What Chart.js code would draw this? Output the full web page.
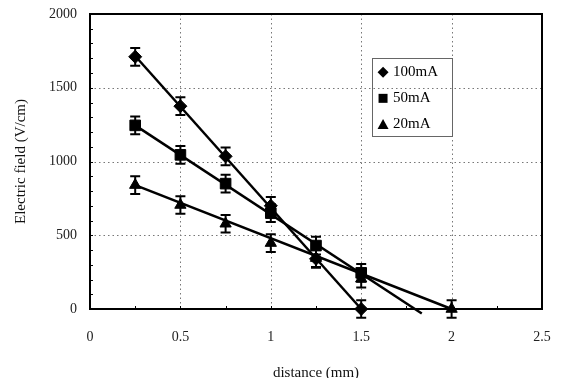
<!DOCTYPE html>
<html><head><meta charset="utf-8">
<script src="https://cdn.jsdelivr.net/npm/chart.js@4.4.1/dist/chart.umd.min.js"></script>
<style>html,body{margin:0;padding:0;background:#fff;}canvas{display:block}</style>
</head><body>
<canvas id="c" width="561" height="378"></canvas>
<script>
// ---- data ----
const xTicks = [0, 0.5, 1, 1.5, 2, 2.5];
const xTickLabels = ['0', '0.5', '1', '1.5', '2', '2.5'];
const yTicks = [0, 500, 1000, 1500, 2000];
const yTickLabels = ['0', '500', '1000', '1500', '2000'];
const seriesNames = ['100mA', '50mA', '20mA'];

const x100 = [0.25, 0.5, 0.75, 1.0, 1.25, 1.5];
const y100 = [1710, 1375, 1035, 700, 340, 0];
const e100 = [60, 60, 60, 60, 60, 60];

const x50 = [0.25, 0.5, 0.75, 1.0, 1.25, 1.5];
const y50 = [1245, 1045, 850, 650, 430, 245];
const e50 = [60, 60, 60, 60, 60, 60];

const x20 = [0.25, 0.5, 0.75, 1.0, 1.25, 1.5, 2.0];
const y20 = [840, 705, 578, 447, 345, 205, 0];
const e20 = [60, 60, 60, 60, 60, 60, 60];

// trend lines (end points)
const t100x = [0.25, 1.5];
const t100y = [1715, 0];
const t50x = [0.25, 1.835];
const t50y = [1245, -30];
const t20x = [0.25, 2.0];
const t20y = [840, 0];

const FONT = "'Liberation Serif', 'Times New Roman', serif";
const pts = (xs, ys) => xs.map((x, i) => ({x: x, y: ys[i]}));

const errorBars = {
  id: 'errorBars',
  afterDatasetsDraw(chart) {
    const ctx = chart.ctx, xs = chart.scales.x, ys = chart.scales.y;
    ctx.save();
    ctx.strokeStyle = '#000';
    ctx.lineWidth = 2;
    chart.data.datasets.forEach(ds => {
      if (!ds.errs) return;
      ds.data.forEach((p, j) => {
        const px = xs.getPixelForValue(p.x);
        const top = ys.getPixelForValue(p.y + ds.errs[j]);
        const bot = ys.getPixelForValue(p.y - ds.errs[j]);
        ctx.beginPath();
        ctx.moveTo(px, top); ctx.lineTo(px, bot);
        ctx.moveTo(px - 5, top); ctx.lineTo(px + 5, top);
        ctx.moveTo(px - 5, bot); ctx.lineTo(px + 5, bot);
        ctx.stroke();
      });
    });
    ctx.restore();
  }
};

const frame = {
  id: 'frame',
  beforeDatasetsDraw(chart) {
    const ctx = chart.ctx, a = chart.chartArea, xs = chart.scales.x, ys = chart.scales.y;
    ctx.save();
    ctx.strokeStyle = '#777';
    ctx.lineWidth = 1;
    ctx.setLineDash([1.5, 3]);
    xTicks.forEach(v => {
      if (v <= xs.min || v >= xs.max) return;
      const px = Math.round(xs.getPixelForValue(v)) + 0.5;
      ctx.beginPath(); ctx.moveTo(px, a.top); ctx.lineTo(px, a.bottom); ctx.stroke();
    });
    yTicks.forEach(v => {
      if (v <= ys.min || v >= ys.max) return;
      const py = Math.round(ys.getPixelForValue(v)) + 0.5;
      ctx.beginPath(); ctx.moveTo(a.left, py); ctx.lineTo(a.right, py); ctx.stroke();
    });
    ctx.restore();
  },
  afterDraw(chart) {
    const ctx = chart.ctx, a = chart.chartArea, xs = chart.scales.x, ys = chart.scales.y;
    ctx.save();
    ctx.strokeStyle = '#000';
    ctx.lineWidth = 2;
    ctx.strokeRect(a.left, a.top, a.right - a.left, a.bottom - a.top);
    // minor ticks, inward
    ctx.lineWidth = 1;
    ctx.beginPath();
    for (let v = ys.min; v <= ys.max; v += 100) {
      const py = Math.round(ys.getPixelForValue(v)) + 0.5;
      ctx.moveTo(a.left, py); ctx.lineTo(a.left + 3, py);
    }
    for (let v = xs.min; v <= xs.max + 1e-9; v += 0.25) {
      const px = Math.round(xs.getPixelForValue(v)) + 0.5;
      ctx.moveTo(px, a.bottom); ctx.lineTo(px, a.bottom - 3);
    }
    ctx.stroke();

    // legend
    const lx = xs.getPixelForValue(1.56), rx = xs.getPixelForValue(2.0);
    const ty = ys.getPixelForValue(1700), by = ys.getPixelForValue(1170);
    ctx.strokeStyle = '#666';
    ctx.lineWidth = 1;
    ctx.strokeRect(Math.round(lx) + 0.5, Math.round(ty) + 0.5, Math.round(rx - lx), Math.round(by - ty));
    const rowH = (by - ty) / 3;
    ctx.fillStyle = '#000';
    ctx.font = '15px ' + FONT;
    ctx.textBaseline = 'middle';
    ctx.textAlign = 'left';
    seriesNames.forEach((name, i) => {
      const cy = ty + rowH * (i + 0.5) + 1;
      const cx = lx + 11;
      ctx.beginPath();
      if (i === 0) {
        ctx.moveTo(cx, cy - 5.5); ctx.lineTo(cx + 5.5, cy); ctx.lineTo(cx, cy + 5.5); ctx.lineTo(cx - 5.5, cy);
      } else if (i === 1) {
        ctx.rect(cx - 4.5, cy - 4.5, 9, 9);
      } else {
        ctx.moveTo(cx, cy - 5.5); ctx.lineTo(cx + 5.5, cy + 4.5); ctx.lineTo(cx - 5.5, cy + 4.5);
      }
      ctx.closePath();
      ctx.fill();
      ctx.fillText(name, lx + 21, cy);
    });
    ctx.restore();
  }
};

const markerStyle = (style, r) => ({
  type: 'scatter', showLine: false, pointStyle: style, pointRadius: r, pointHoverRadius: r,
  pointBackgroundColor: '#000', pointBorderColor: '#000', pointBorderWidth: 1, clip: false
});
const trendStyle = {
  type: 'line', borderColor: '#000', borderWidth: 2.5, pointRadius: 0, fill: false, clip: false
};

new Chart(document.getElementById('c'), {
  data: {
    datasets: [
      Object.assign({label: 'trend ' + seriesNames[0], data: pts(t100x, t100y)}, trendStyle),
      Object.assign({label: 'trend ' + seriesNames[1], data: pts(t50x, t50y)}, trendStyle),
      Object.assign({label: 'trend ' + seriesNames[2], data: pts(t20x, t20y)}, trendStyle),
      Object.assign({label: seriesNames[0], data: pts(x100, y100), errs: e100}, markerStyle('rectRot', 6.5)),
      Object.assign({label: seriesNames[1], data: pts(x50, y50), errs: e50}, markerStyle('rect', 7.5)),
      Object.assign({label: seriesNames[2], data: pts(x20, y20), errs: e20}, markerStyle('triangle', 6.5))
    ]
  },
  options: {
    responsive: false,
    animation: false,
    events: [],
    layout: {padding: {left: 12, right: 19, top: 14, bottom: 0}},
    plugins: {legend: {display: false}, tooltip: {enabled: false}},
    scales: {
      x: {
        type: 'linear', min: 0, max: 2.5,
        afterBuildTicks: s => { s.ticks = xTicks.map(v => ({value: v})); },
        afterFit: s => { s.height = 378 - 309; s.paddingLeft = 0; s.paddingRight = 0; },
        grid: {display: false, drawTicks: false},
        border: {display: false},
        ticks: {
          padding: 20, color: '#222', font: {family: FONT, size: 14}, maxRotation: 0,
          callback: (v, i) => xTickLabels[i]
        },
        title: {display: true, text: 'distance (mm)', color: '#111', font: {family: FONT, size: 15}, padding: {top: 0, bottom: -4}}
      },
      y: {
        type: 'linear', min: 0, max: 2000,
        afterBuildTicks: s => { s.ticks = yTicks.map(v => ({value: v})); },
        afterFit: s => { s.width = 90 - 12; s.paddingTop = 0; s.paddingBottom = 0; },
        grid: {display: false, drawTicks: false},
        border: {display: false},
        ticks: {padding: 13, color: '#222', font: {family: FONT, size: 14},
          callback: (v, i) => yTickLabels[i]},
        title: {display: true, text: 'Electric field (V/cm)', color: '#111', font: {family: FONT, size: 15}, padding: {top: 0, bottom: 0}}
      }
    }
  },
  plugins: [frame, errorBars]
});
</script>
</body></html>
